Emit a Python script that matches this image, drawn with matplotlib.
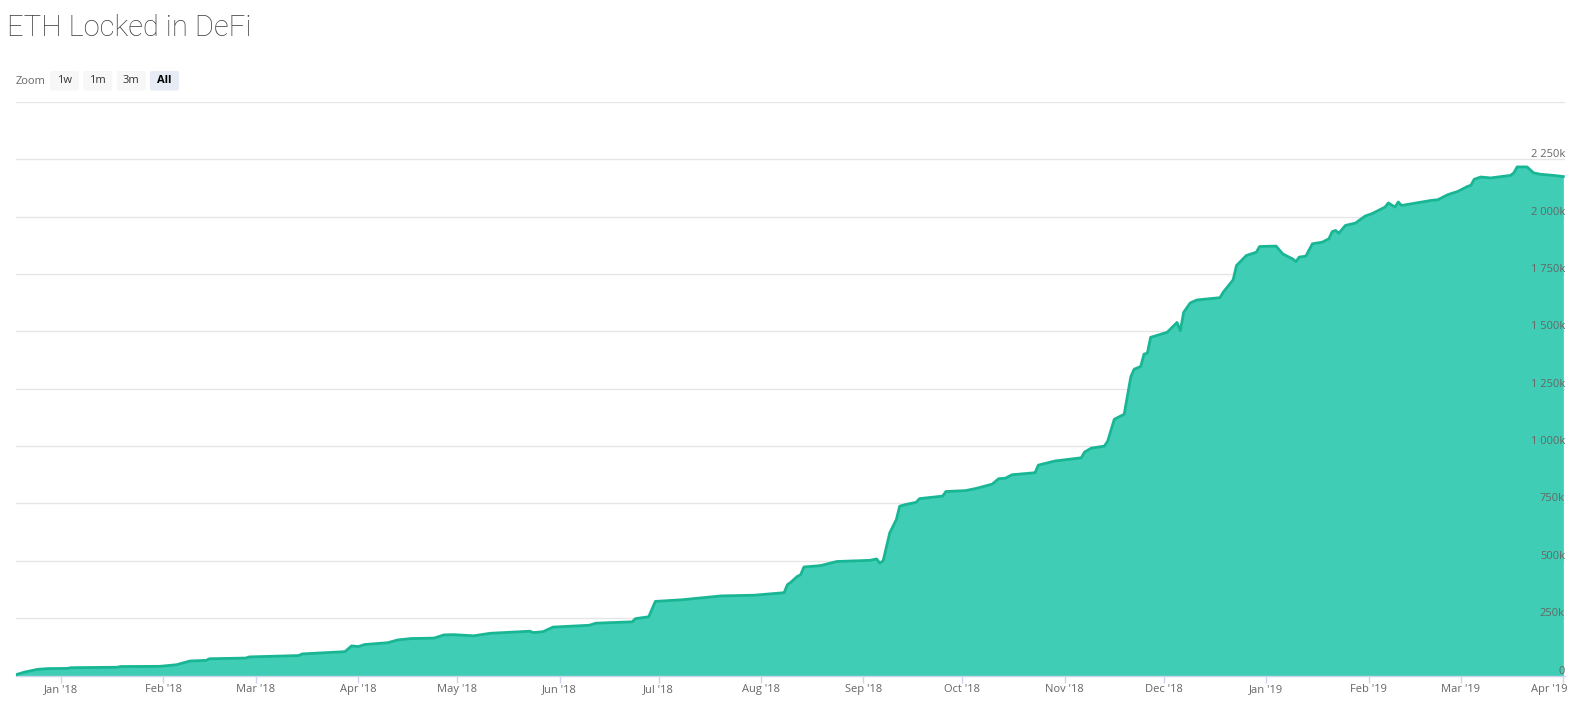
import matplotlib
matplotlib.use("Agg")
import matplotlib.pyplot as plt
import matplotlib.dates as mdates
import matplotlib.transforms as mtransforms
from matplotlib.patches import FancyBboxPatch
import numpy as np
import pandas as pd

# ---------------- data ----------------
dates = [
    "2017-12-18", "2017-12-21", "2017-12-25", "2017-12-28", "2018-01-03", "2018-01-04",
    "2018-01-18", "2018-01-19", "2018-01-31", "2018-02-05", "2018-02-07", "2018-02-09",
    "2018-02-14", "2018-02-15", "2018-02-26", "2018-02-27", "2018-03-14", "2018-03-15",
    "2018-03-28", "2018-03-30", "2018-04-01", "2018-04-03", "2018-04-10", "2018-04-13",
    "2018-04-17", "2018-04-24", "2018-04-27", "2018-04-30", "2018-05-06", "2018-05-11",
    "2018-05-23", "2018-05-24", "2018-05-27", "2018-05-30", "2018-06-10", "2018-06-12",
    "2018-06-23", "2018-06-24", "2018-06-28", "2018-06-30", "2018-07-08", "2018-07-20",
    "2018-07-30", "2018-08-08", "2018-08-09", "2018-08-10", "2018-08-12", "2018-08-13",
    "2018-08-14", "2018-08-19", "2018-08-24", "2018-09-03", "2018-09-05", "2018-09-06",
    "2018-09-07", "2018-09-09", "2018-09-11", "2018-09-12", "2018-09-14", "2018-09-17",
    "2018-09-18", "2018-09-25", "2018-09-26", "2018-10-02", "2018-10-05", "2018-10-10",
    "2018-10-12", "2018-10-14", "2018-10-16", "2018-10-23", "2018-10-24", "2018-10-29",
    "2018-11-06", "2018-11-07", "2018-11-09", "2018-11-13", "2018-11-14", "2018-11-16",
    "2018-11-19", "2018-11-21", "2018-11-22", "2018-11-24", "2018-11-25", "2018-11-26",
    "2018-11-27", "2018-12-02", "2018-12-05", "2018-12-06", "2018-12-07", "2018-12-09",
    "2018-12-11", "2018-12-18", "2018-12-19", "2018-12-22", "2018-12-23", "2018-12-26",
    "2018-12-29", "2018-12-30", "2019-01-04", "2019-01-06", "2019-01-09", "2019-01-10",
    "2019-01-11", "2019-01-13", "2019-01-15", "2019-01-18", "2019-01-20", "2019-01-21",
    "2019-01-22", "2019-01-23", "2019-01-25", "2019-01-28", "2019-01-31", "2019-02-02",
    "2019-02-06", "2019-02-07", "2019-02-09", "2019-02-10", "2019-02-11", "2019-02-16",
    "2019-02-20", "2019-02-22", "2019-02-25", "2019-02-28", "2019-03-03", "2019-03-04",
    "2019-03-05", "2019-03-07", "2019-03-10", "2019-03-16", "2019-03-17", "2019-03-18",
    "2019-03-21", "2019-03-23", "2019-03-25", "2019-03-29", "2019-04-01",
]
eth_locked = [
    2000, 15000, 27000, 30000, 31000, 34000,
    36000, 39000, 40000, 47000, 55000, 63000,
    66000, 73000, 76000, 81000, 87000, 94000,
    104000, 129000, 126000, 135000, 143000, 155000,
    161000, 163000, 177000, 178000, 173000, 184000,
    193000, 187000, 191000, 211000, 219000, 228000,
    234000, 248000, 256000, 323000, 330000, 347000,
    350000, 361000, 396000, 406000, 432000, 439000,
    473000, 479000, 497000, 502000, 508000, 490000,
    500000, 622000, 680000, 738000, 746000, 755000,
    771000, 782000, 802000, 806000, 815000, 834000,
    858000, 860000, 875000, 884000, 917000, 935000,
    949000, 974000, 991000, 1000000, 1022000, 1117000,
    1139000, 1302000, 1335000, 1347000, 1401000, 1405000,
    1474000, 1496000, 1539000, 1503000, 1583000, 1624000,
    1637000, 1647000, 1671000, 1725000, 1787000, 1831000,
    1845000, 1870000, 1872000, 1838000, 1816000, 1804000,
    1824000, 1828000, 1882000, 1889000, 1904000, 1935000,
    1940000, 1928000, 1962000, 1972000, 2003000, 2013000,
    2042000, 2060000, 2042000, 2064000, 2049000, 2061000,
    2071000, 2074000, 2096000, 2110000, 2132000, 2137000,
    2163000, 2173000, 2169000, 2180000, 2191000, 2217000,
    2217000, 2191000, 2185000, 2180000, 2175000,
]
y_ticks = [0, 250000, 500000, 750000, 1000000, 1250000, 1500000, 1750000, 2000000, 2250000, 2500000]
y_tick_labels = ["0", "250k", "500k", "750k", "1 000k", "1 250k", "1 500k", "1 750k", "2 000k", "2 250k", ""]
title_text = "ETH Locked in DeFi"
zoom_buttons = ["1w", "1m", "3m", "All"]

# ---------------- figure ----------------
W, H, DPI = 1578, 704, 100
fig = plt.figure(figsize=(W / DPI, H / DPI), dpi=DPI)
fig.patch.set_facecolor("white")

def fx(px):
    return px / W

def fy(py):
    return 1 - py / H

left_px, right_px, top_px, bottom_px = 16, 1565, 102, 675.5
ax = fig.add_axes([fx(left_px), fy(bottom_px), fx(right_px) - fx(left_px), fy(top_px) - fy(bottom_px)])

x = pd.to_datetime(dates)
line_color = "#18b695"
fill_color = "#40cdb5"

ax.fill_between(x, 0, eth_locked, color=fill_color, linewidth=0, zorder=2)
ax.plot(x, eth_locked, color=line_color, linewidth=2, solid_joinstyle="round", zorder=3)

ax.set_ylim(0, 2500000)
start = mdates.date2num(pd.Timestamp("2017-12-18")) + 0.37
end = mdates.date2num(pd.Timestamp("2019-04-01")) + 0.5
ax.set_xlim(start, end)

# gridlines
ax.set_yticks(y_ticks)
ax.yaxis.grid(True, color="#e6e6e6", linewidth=1, zorder=1)
ax.set_axisbelow(True)
ax.tick_params(axis="y", left=False, right=False, labelleft=False, labelright=False)

# y labels inside, above gridlines, right-aligned
ytrans = ax.get_yaxis_transform()
for v, lab in zip(y_ticks, y_tick_labels):
    if lab:
        ax.annotate(lab, xy=(1.0, v), xycoords=ytrans, xytext=(0, 2), textcoords="offset pixels",
                    ha="right", va="baseline", fontsize=8, color="#666666", family="Open Sans", zorder=4)

# x axis
ax.xaxis.set_major_locator(mdates.MonthLocator())
ax.xaxis.set_major_formatter(mdates.DateFormatter("%b '%y"))
ax.tick_params(axis="x", direction="out", length=5, width=1, color="#ccd6eb",
               labelsize=8, labelcolor="#666666", pad=1)
fig.canvas.draw()
xlabels = ax.get_xticklabels()
for lbl in xlabels:
    lbl.set_family("Open Sans")
# keep last label inside the chart (shift left like the reference)
last = xlabels[-1]
last.set_transform(last.get_transform() + mtransforms.ScaledTranslation(-14 / DPI, 0, fig.dpi_scale_trans))

for s in ["top", "left", "right"]:
    ax.spines[s].set_visible(False)
ax.spines["bottom"].set_color("#ccd6eb")
ax.spines["bottom"].set_linewidth(1)

# title
fig.text(fx(7), fy(28), title_text, fontsize=21, color="#404040", family="Roboto",
         fontweight="light", ha="left", va="center")

# zoom buttons
fig.text(fx(16), fy(81), "Zoom", fontsize=8, color="#666666", family="Open Sans", ha="left", va="center")
btn_x = [50, 83.3, 116.7, 150]
btn_w = 29
for bx, lab in zip(btn_x, zoom_buttons):
    sel = lab == "All"
    patch = FancyBboxPatch((bx / DPI, (H - 90.5) / DPI), btn_w / DPI, 19.5 / DPI,
                           boxstyle="round,pad=0,rounding_size=0.02",
                           transform=fig.dpi_scale_trans,
                           facecolor="#e6ebf5" if sel else "#f7f7f7", edgecolor="none")
    fig.patches.append(patch)
    fig.text(fx(bx + btn_w / 2), fy(80.5), lab, fontsize=8, ha="center", va="center",
             color="#000000" if sel else "#333333", family="Open Sans",
             fontweight="bold" if sel else "normal")

fig.savefig("out.png", dpi=DPI, facecolor="white")
